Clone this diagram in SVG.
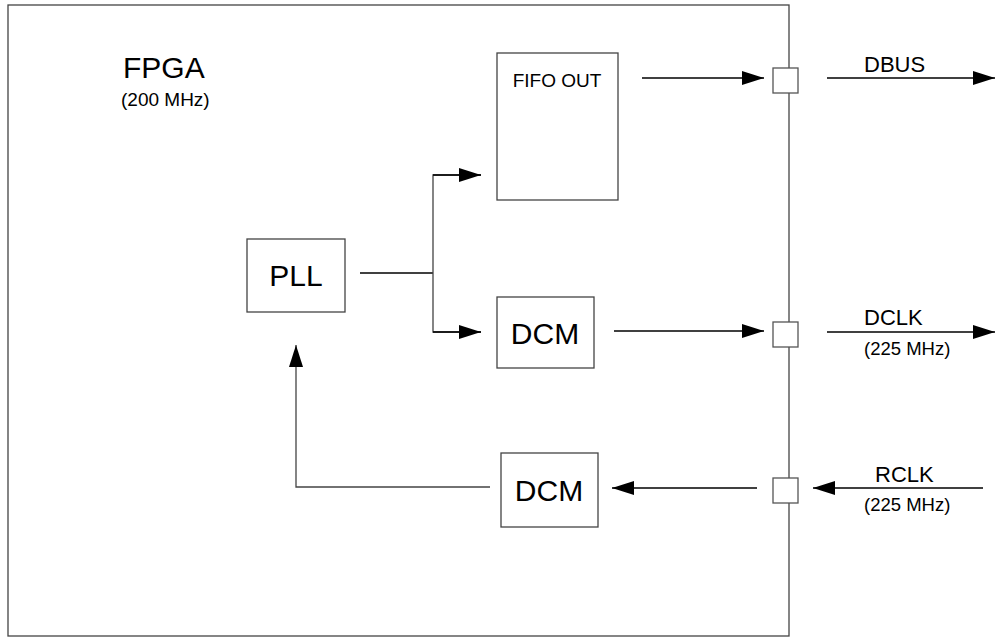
<svg xmlns="http://www.w3.org/2000/svg" width="995" height="639" viewBox="0 0 995 639">
<style>
.box{fill:#fff;stroke:#444;stroke-width:1.3}
.port{fill:#fff;stroke:#555;stroke-width:1.3}
.ln{fill:none;stroke:#000;stroke-width:1.3}
.lng{fill:none;stroke:#444;stroke-width:1.3}
text{font-family:"Liberation Sans",Arial,sans-serif;fill:#000}
.big{font-size:30px}
.mid{font-size:22px}
.sm{font-size:19px}
.xs{font-size:18.5px}
</style>
<defs>
<marker id="ah" viewBox="0 0 22 14" refX="22" refY="7" markerWidth="22" markerHeight="14" markerUnits="userSpaceOnUse" orient="auto">
<path d="M0,0 L22,7 L0,14 Z" fill="#000"/>
</marker>
</defs>
<g id="fpga">
<rect class="box" x="8" y="5" width="781" height="631"/>
<text class="big" x="123" y="78">FPGA</text>
<text class="sm" x="121" y="106">(200 MHz)</text>
</g>
<g id="fifo">
<rect class="box" x="497" y="53" width="121" height="147"/>
<text class="sm" x="557" y="87" text-anchor="middle">FIFO OUT</text>
</g>
<g id="pll">
<rect class="box" x="247" y="239" width="98" height="73"/>
<text class="big" x="296" y="286" text-anchor="middle">PLL</text>
</g>
<g id="dcm1">
<rect class="box" x="497" y="297" width="97" height="71"/>
<text class="big" x="545" y="344" text-anchor="middle">DCM</text>
</g>
<g id="dcm2">
<rect class="box" x="501" y="453" width="97" height="74"/>
<text class="big" x="549" y="501" text-anchor="middle">DCM</text>
</g>
<g id="port_dbus"><rect class="port" x="773" y="68" width="25" height="25"/></g>
<g id="port_dclk"><rect class="port" x="773" y="322" width="25" height="25"/></g>
<g id="port_rclk"><rect class="port" x="773" y="478" width="25" height="25"/></g>
<g id="labels">
<text class="mid" x="864" y="72">DBUS</text>
<text class="mid" x="864" y="325">DCLK</text>
<text class="xs" x="864" y="355">(225 MHz)</text>
<text class="mid" x="875" y="482">RCLK</text>
<text class="xs" x="864" y="511">(225 MHz)</text>
</g>
<g id="connectors">
<path class="ln" d="M642,78 H764" marker-end="url(#ah)"/>
<path class="ln" d="M827,78 H995" marker-end="url(#ah)"/>
<path class="ln" d="M360,273 H433"/>
<path class="lng" d="M481,175 H433 V332 H481"/>
<path class="ln" d="M433,175 H481" marker-end="url(#ah)"/>
<path class="ln" d="M433,332 H481" marker-end="url(#ah)"/>
<path class="ln" d="M614,331 H764" marker-end="url(#ah)"/>
<path class="ln" d="M827,332 H995" marker-end="url(#ah)"/>
<path class="ln" d="M983,488 H813" marker-end="url(#ah)"/>
<path class="ln" d="M757,488 H612" marker-end="url(#ah)"/>
<path class="lng" d="M490,487 H296 V345" marker-end="url(#ah)"/>
</g>
</svg>
